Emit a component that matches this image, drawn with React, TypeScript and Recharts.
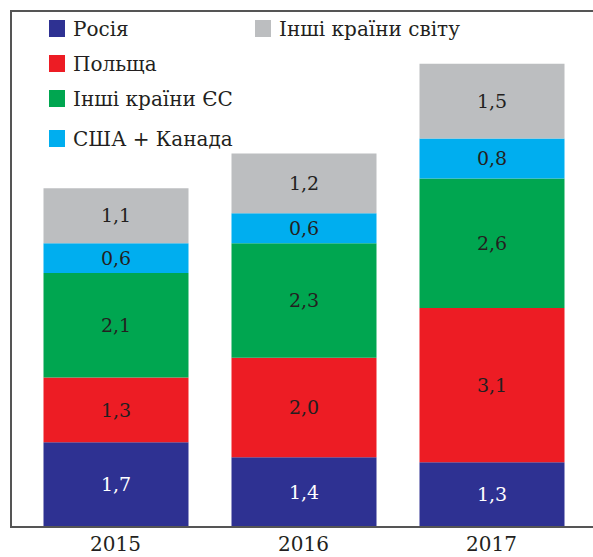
import React from 'react';
import { BarChart, Bar, XAxis, YAxis, LabelList, Legend } from 'recharts';

const years = ['2015', '2016', '2017'];
const russia = [1.7, 1.4, 1.3];
const poland = [1.3, 2.0, 3.1];
const otherEU = [2.1, 2.3, 2.6];
const usaCanada = [0.6, 0.6, 0.8];
const otherWorld = [1.1, 1.2, 1.5];

const seriesKeys = ['russia', 'poland', 'otherEU', 'usaCanada', 'otherWorld'];
const seriesNames = ['Росія', 'Польща', 'Інші країни ЄС', 'США + Канада', 'Інші країни світу'];
const seriesColors = ['#2e3192', '#ed1c24', '#00a650', '#00aeef', '#bcbec0'];
const labelColors = ['#ffffff', '#231f20', '#231f20', '#231f20', '#231f20'];
const seriesValues = [russia, poland, otherEU, usaCanada, otherWorld];

const data = years.map((y, i) => {
  const row: any = { year: y };
  seriesKeys.forEach((k, j) => {
    row[k] = seriesValues[j][i];
  });
  return row;
});

const FONT = '"DejaVu Serif", serif';
const TEXT = '#231f20';

const fmt = (v: any) => Number(v).toFixed(1).replace('.', ',');

const legendPlacement = [
  { row: 1, col: 1 },
  { row: 2, col: 1 },
  { row: 3, col: 1 },
  { row: 4, col: 1 },
  { row: 1, col: 2 },
];

const LegendContent = () => (
  <div
    style={{
      display: 'grid',
      gridTemplateColumns: '206px auto',
      gridTemplateRows: '35px 35px 35px 38px',
      fontFamily: FONT,
      fontSize: 20,
      color: TEXT,
    }}
  >
    {seriesNames.map((name, i) => (
      <div
        key={name}
        style={{
          gridRow: legendPlacement[i].row,
          gridColumn: legendPlacement[i].col,
          display: 'flex',
          alignItems: i === 3 ? 'flex-end' : 'center',
          whiteSpace: 'nowrap',
        }}
      >
        <span
          style={{
            display: 'inline-block',
            width: 16,
            height: 17,
            background: seriesColors[i],
            marginRight: 8,
            marginBottom: i === 3 ? 7 : 0,
          }}
        />
        <span style={{ lineHeight: '30px' }}>{name}</span>
      </div>
    ))}
  </div>
);

export default function App() {
  return (
    <div style={{ position: 'absolute', left: 0, top: 0, width: 593, height: 557, background: '#fff' }}>
      <BarChart
        width={593}
        height={557}
        data={data}
        margin={{ top: 29, right: 7.5, bottom: 0, left: 21.5 }}
      >
        <XAxis
          dataKey="year"
          axisLine={false}
          tickLine={false}
          height={30}
          tickMargin={4}
          tick={{ fontFamily: FONT, fontSize: 20, fill: TEXT }}
        />
        <YAxis hide domain={[0, 10]} />
        <Legend
          layout="vertical"
          align="center"
          verticalAlign="middle"
          wrapperStyle={{ top: 11, left: 49, width: 450 }}
          content={() => <LegendContent />}
        />
        {seriesKeys.map((k, j) => (
          <Bar
            key={k}
            dataKey={k}
            name={seriesNames[j]}
            stackId="a"
            fill={seriesColors[j]}
            barSize={145}
            isAnimationActive={false}
          >
            <LabelList
              dataKey={k}
              position="center"
              formatter={fmt}
              style={{ fontFamily: FONT, fontSize: 19, fill: labelColors[j] }}
            />
          </Bar>
        ))}
      </BarChart>
      <div
        style={{
          position: 'absolute',
          left: 10,
          top: 10,
          width: 600,
          height: 518,
          boxSizing: 'border-box',
          borderTop: '2px solid #555',
          borderLeft: '2px solid #555',
          borderBottom: '2px solid #555',
          pointerEvents: 'none',
        }}
      />
    </div>
  );
}
